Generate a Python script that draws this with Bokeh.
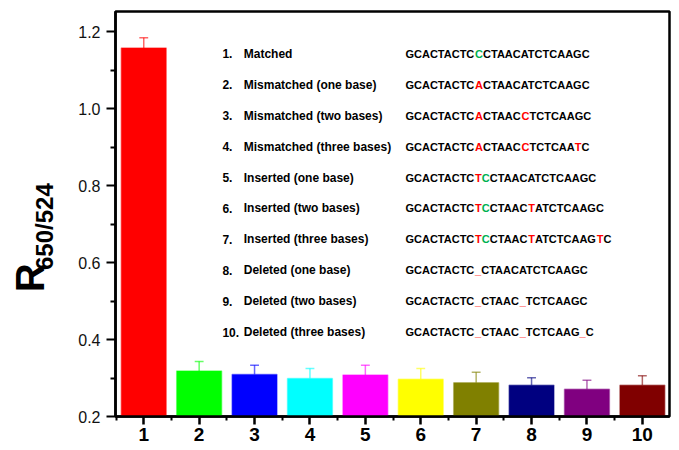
import numpy as np
from bokeh.plotting import figure
from bokeh.layouts import row
from bokeh.models import Range1d, FixedTicker, NumeralTickFormatter, ColumnDataSource
from bokeh.embed import file_html
from bokeh.resources import INLINE
from bokeh.core.properties import value

# ---------------- data ----------------
samples = [1, 2, 3, 4, 5, 6, 7, 8, 9, 10]
ratios = [1.158, 0.318, 0.309, 0.299, 0.308, 0.297, 0.288, 0.281, 0.271, 0.281]
errors = [0.027, 0.025, 0.024, 0.026, 0.025, 0.028, 0.027, 0.020, 0.023, 0.025]
bar_colors = ["#FF0000", "#00FF00", "#0000FF", "#00FFFF", "#FF00FF",
              "#FFFF00", "#808000", "#000080", "#800080", "#800000"]
y_ticks = [0.2, 0.4, 0.6, 0.8, 1.0, 1.2]
y_minor = [0.3, 0.5, 0.7, 0.9, 1.1]
x_minor = [0.5, 1.5, 2.5, 3.5, 4.5, 5.5, 6.5, 7.5, 8.5, 9.5, 10.5]
y_title = "R"
y_title_sub = "650/524"

numbers = ["1.", "2.", "3.", "4.", "5.", "6.", "7.", "8.", "9.", "10."]
names = ["Matched", "Mismatched (one base)", "Mismatched (two bases)",
         "Mismatched (three bases)", "Inserted (one base)", "Inserted (two bases)",
         "Inserted (three bases)", "Deleted (one base)", "Deleted (two bases)",
         "Deleted (three bases)"]
sequences = ["GCACTACTCCCTAACATCTCAAGC",
             "GCACTACTCACTAACATCTCAAGC",
             "GCACTACTCACTAACCTCTCAAGC",
             "GCACTACTCACTAACCTCTCAATC",
             "GCACTACTCTCCTAACATCTCAAGC",
             "GCACTACTCTCCTAACTATCTCAAGC",
             "GCACTACTCTCCTAACTATCTCAAGTC",
             "GCACTACTC_CTAACATCTCAAGC",
             "GCACTACTC_CTAAC_TCTCAAGC",
             "GCACTACTC_CTAAC_TCTCAAG_C"]
# highlighted positions (index, colour key)
highlights = [[(9, "g")],
              [(9, "r")],
              [(9, "r"), (15, "r")],
              [(9, "r"), (15, "r"), (22, "r")],
              [(9, "r"), (10, "g")],
              [(9, "r"), (10, "g"), (16, "r")],
              [(9, "r"), (10, "g"), (16, "r"), (25, "r")],
              [(9, "r")],
              [(9, "r"), (15, "r")],
              [(9, "r"), (15, "r"), (23, "r")]]
hl_colors = {"k": "#000000", "r": "#FF0000", "g": "#00B050"}

W, H = 679, 450
LW = 66  # width of the strip holding the y title

# ---------------- y-title strip ----------------
t = figure(width=LW, height=H, output_backend="svg", toolbar_location=None,
           x_range=Range1d(0, LW), y_range=Range1d(0, H),
           x_axis_type=None, y_axis_type=None,
           min_border_left=0, min_border_right=0, min_border_top=0, min_border_bottom=0)
t.outline_line_color = None
t.background_fill_color = "white"
t.border_fill_color = "white"
t.grid.visible = False
t.text(x=[29], y=[H - 296], text=[y_title], angle=np.pi / 2,
       text_font=value("Liberation Sans"), text_font_style="bold", text_font_size="40px",
       text_color="black", text_align="center", text_baseline="middle")
t.text(x=[44], y=[H - 239], text=[y_title_sub], angle=np.pi / 2,
       text_font=value("Liberation Sans"), text_font_style="bold", text_font_size="24px",
       text_color="black", text_align="center", text_baseline="middle")

# ---------------- main chart ----------------
p = figure(width=W - LW, height=H, output_backend="svg", toolbar_location=None,
           x_range=Range1d(0.49, 10.49), y_range=Range1d(0.2, 1.253),
           min_border_left=115 - LW, min_border_right=10, min_border_top=11, min_border_bottom=34)
p.background_fill_color = "white"
p.border_fill_color = "white"
p.grid.visible = False
p.outline_line_color = "black"
p.outline_line_width = 2.5
p.outline_line_alpha = 1.0

# bars
p.vbar(x=samples, top=ratios, bottom=0, width=0.81, fill_color=bar_colors,
       line_color=bar_colors, line_alpha=0.45, line_width=1.5)

# error bars (upper only)
tops = [r + e for r, e in zip(ratios, errors)]
p.segment(x0=samples, y0=ratios, x1=samples, y1=tops, line_color=bar_colors,
          line_alpha=0.6, line_width=1.5)
p.segment(x0=[s - 0.08 for s in samples], y0=tops, x1=[s + 0.08 for s in samples], y1=tops,
          line_color=bar_colors, line_alpha=0.6, line_width=1.5)

# axes
xa = p.xaxis[0]
xa.ticker = FixedTicker(ticks=samples, minor_ticks=x_minor)
xa.major_label_text_font = "Liberation Sans"
xa.major_label_text_font_style = "bold"
xa.major_label_text_font_size = "19px"
xa.major_label_text_color = "black"
xa.major_tick_out = 8
xa.major_tick_in = 0
xa.minor_tick_out = 4
xa.minor_tick_in = 0
xa.axis_line_width = 2.5
xa.major_tick_line_width = 2.5
xa.minor_tick_line_width = 2
xa.major_label_standoff = 3

ya = p.yaxis[0]
ya.ticker = FixedTicker(ticks=y_ticks, minor_ticks=y_minor)
ya.formatter = NumeralTickFormatter(format="0.0")
ya.major_label_text_font = "Liberation Sans"
ya.major_label_text_font_size = "16px"
ya.major_label_text_color = "#111111"
ya.major_tick_out = 9
ya.major_tick_in = 0
ya.minor_tick_out = 5
ya.minor_tick_in = 0
ya.axis_line_width = 2.5
ya.major_tick_line_width = 2
ya.minor_tick_line_width = 2
ya.major_label_standoff = 6

# table of samples inside the plot
row_y = [1.143 - 0.0804 * i for i in range(len(names))]
num_x, name_x, seq_x = 2.42, 2.805, 5.724

p.text(x=[num_x] * len(numbers), y=row_y, text=numbers, text_font=value("Liberation Sans"),
       text_font_style="bold", text_font_size="12px", text_color="black",
       text_align="left", text_baseline="middle")
p.text(x=[name_x] * len(names), y=row_y, text=names, text_font=value("Liberation Sans"),
       text_font_style="bold", text_font_size="12px", text_color="black",
       text_align="left", text_baseline="middle")

# sequences with coloured bases, split into colour runs
adv = {"A": 1479 / 2048, "C": 1479 / 2048, "G": 1593 / 2048, "T": 1251 / 2048, "_": 1139 / 2048}
seq_size = 11.0
seg_x, seg_y, seg_text, seg_off, seg_col = [], [], [], [], []
for seq, hl, yy in zip(sequences, highlights, row_y):
    cmap = ["k"] * len(seq)
    for idx, key in hl:
        cmap[idx] = key
    start = 0
    off = 0.0
    while start < len(seq):
        end = start
        while end < len(seq) and cmap[end] == cmap[start]:
            end += 1
        chunk = seq[start:end]
        seg_x.append(seq_x)
        seg_y.append(yy)
        seg_text.append(chunk)
        seg_off.append(off)
        seg_col.append(hl_colors[cmap[start]])
        off += sum(adv[c] for c in chunk) * seq_size
        start = end

src = ColumnDataSource(dict(x=seg_x, y=seg_y, text=seg_text, xo=seg_off, color=seg_col))
p.text(x="x", y="y", text="text", x_offset="xo", text_color="color", source=src,
       text_font=value("Liberation Sans"), text_font_style="bold",
       text_font_size="11px", text_align="left", text_baseline="middle")

layout = row(t, p)
open("out.html", "w").write(file_html(layout, INLINE))
